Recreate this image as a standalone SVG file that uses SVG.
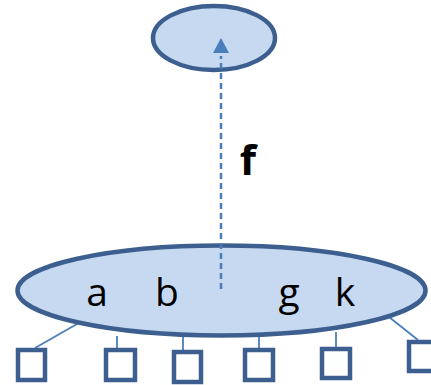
<svg xmlns="http://www.w3.org/2000/svg" width="431" height="385" viewBox="0 0 431 385">
  <defs>
    <style>
      .node { fill: #C6D9F0; stroke: #3C5F8F; stroke-width: 4.5; }
      .box { fill: #FFFFFF; stroke: #3C5F8F; stroke-width: 4.5; }
      .link { stroke: #4A7EBB; stroke-width: 1.8; fill: none; }
      .dash { stroke: #4A7EBB; stroke-width: 2.5; stroke-dasharray: 6 4; fill: none; }
      .lbl { font-family: "Open Sans", "Liberation Sans", sans-serif; font-size: 39px; fill: #000; }
      .lblb { font-family: "Open Sans", "Liberation Sans", sans-serif; font-size: 42px; font-weight: bold; fill: #000; }
    </style>
  </defs>

  <!-- thin links from the base ellipse down to the boxes -->
  <g id="connectors">
    <line class="link" x1="77" y1="324" x2="35" y2="348"/>
    <line class="link" x1="117" y1="336" x2="117" y2="348"/>
    <line class="link" x1="183" y1="336" x2="183" y2="350"/>
    <line class="link" x1="259" y1="336" x2="259" y2="348"/>
    <line class="link" x1="336" y1="332" x2="336" y2="347"/>
    <line class="link" x1="389" y1="317" x2="418" y2="340"/>
  </g>

  <g id="top">
    <ellipse class="node" cx="214" cy="38" rx="61" ry="32"/>
  </g>

  <g id="base">
    <ellipse class="node" cx="221.5" cy="290.5" rx="204" ry="45"/>
    <text class="lbl" x="97" y="306" text-anchor="middle">a</text>
    <text class="lbl" x="167" y="306" text-anchor="middle">b</text>
    <text class="lbl" x="289" y="306" text-anchor="middle">g</text>
    <text class="lbl" x="345" y="306" text-anchor="middle">k</text>
  </g>

  <!-- dashed upward link with its label -->
  <g id="up-link">
    <line class="dash" x1="221" y1="289" x2="221" y2="56"/>
    <path d="M221,38 L229,53 L213,53 z" fill="#4A7EBB"/>
    <text class="lblb" x="248" y="175" text-anchor="middle">f</text>
  </g>

  <g id="box1"><rect class="box" x="18" y="350" width="27" height="30"/></g>
  <g id="box2"><rect class="box" x="106" y="350" width="29" height="30"/></g>
  <g id="box3"><rect class="box" x="174" y="352" width="27" height="30"/></g>
  <g id="box4"><rect class="box" x="245" y="350" width="28" height="30"/></g>
  <g id="box5"><rect class="box" x="322" y="349" width="28" height="29"/></g>
  <g id="box6"><rect class="box" x="409" y="342" width="28" height="29"/></g>
</svg>
